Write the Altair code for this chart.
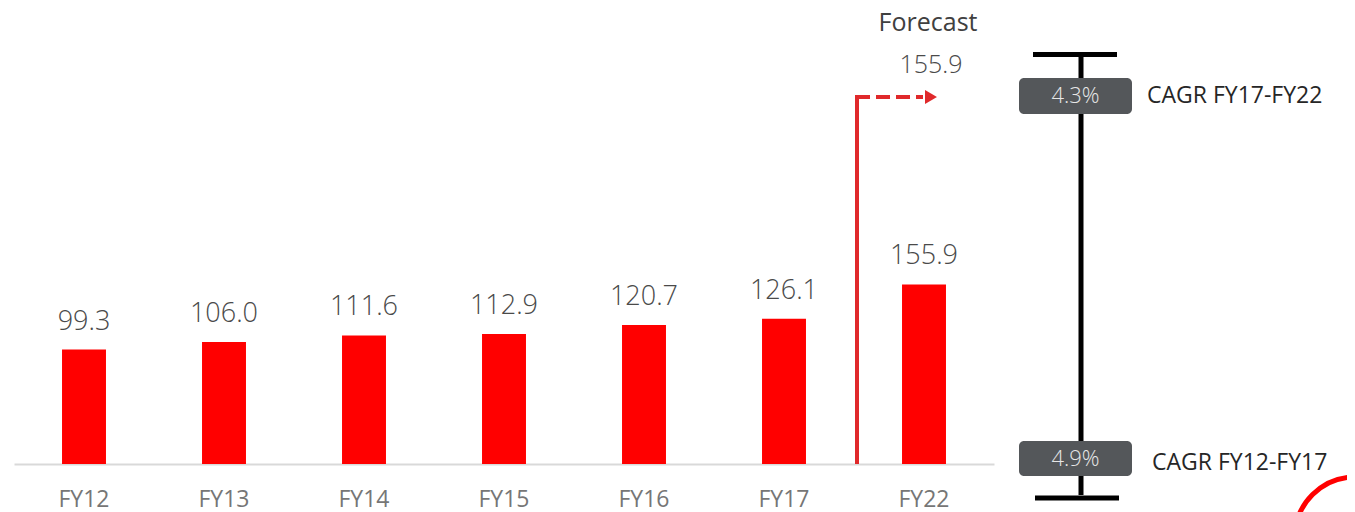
import altair as alt
import pandas as pd

# ---- data ----
years = ["FY12", "FY13", "FY14", "FY15", "FY16", "FY17", "FY22"]
values = [99.3, 106.0, 111.6, 112.9, 120.7, 126.1, 155.9]
value_labels = ["99.3", "106.0", "111.6", "112.9", "120.7", "126.1", "155.9"]
forecast_title = "Forecast"
forecast_value = "155.9"
cagr_values = ["4.3%", "4.9%"]
cagr_labels = ["CAGR FY17-FY22", "CAGR FY12-FY17"]

df = pd.DataFrame({"year": years, "value": values, "label": value_labels})
one = pd.DataFrame({"k": [0]})

W, H = 1339, 456
RED = "#ff0000"
ARROW = "#e0292b"

x = alt.X(
    "year:N", sort=years,
    scale=alt.Scale(range=[6, 986], paddingInner=0.686, paddingOuter=0.343),
    axis=alt.Axis(title=None, ticks=False, tickSize=0, labelAngle=0, labelFontSize=23,
                  labelColor="#767676", labelFont="Open Sans", domainColor="#d9d9d9",
                  domainWidth=2, labelPadding=24),
)
y = alt.Y("value:Q", scale=alt.Scale(domain=[0, 395.8], nice=False), axis=None)

bars = alt.Chart(df).mark_bar(color=RED).encode(x=x, y=y)
labels = alt.Chart(df).mark_text(
    font="Open Sans", fontSize=27, fontWeight=300, color="#4a4a4a",
    baseline="alphabetic", dy=-20,
).encode(x=x, y=y, text="label:N")


def seg(x1, y1, x2, y2, color, width, dash=None):
    kw = dict(color=color, strokeWidth=width, strokeCap="butt")
    if dash:
        kw["strokeDash"] = dash
    return alt.Chart(one).mark_rule(**kw).encode(
        x=alt.value(x1), x2=alt.value(x2), y=alt.value(y1), y2=alt.value(y2))


def txt(s, px, py, size, color, font="Open Sans", align="center", weight=400, baseline="alphabetic"):
    return alt.Chart(one).mark_text(
        text=s, font=font, fontSize=size, color=color, align=align,
        fontWeight=weight, baseline=baseline,
    ).encode(x=alt.value(px), y=alt.value(py))


def box(x1, y1, x2, y2):
    return alt.Chart(one).mark_rect(cornerRadius=5, color="#54575a").encode(
        x=alt.value(x1), x2=alt.value(x2), y=alt.value(y1), y2=alt.value(y2))


# forecast arrow
arrow_v = seg(849, 456, 849, 87, ARROW, 4)
arrow_h = seg(848, 89, 915, 89, ARROW, 4, dash=[14, 6])
arrow_head = alt.Chart(one).mark_point(
    shape="triangle-right", filled=True, size=190, color=ARROW, opacity=1
).encode(x=alt.value(923), y=alt.value(89))

forecast_t = txt(forecast_title, 920, 23, 25, "#404040")
forecast_v = txt(forecast_value, 923, 65, 25, "#4a4a4a", weight=300)

# CAGR bracket
vline = seg(1073, 49, 1073, 487, "#000000", 5)
cap_top = seg(1025, 46.5, 1109, 46.5, "#000000", 5)
cap_bot = seg(1027, 490, 1111, 490, "#000000", 5)
box1 = box(1011, 70, 1124, 106)
box2 = box(1011, 433, 1124, 468)
pct1 = txt(cagr_values[0], 1067.5, 88, 22, "#e6e6e6", weight=300, baseline="middle")
pct2 = txt(cagr_values[1], 1067.5, 451, 22, "#e6e6e6", weight=300, baseline="middle")
lab1 = txt(cagr_labels[0], 1139, 88, 23, "#262626", align="left", baseline="middle")
lab2 = txt(cagr_labels[1], 1144, 455, 23, "#262626", align="left", baseline="middle")

# decorative corner arc
arc = alt.Chart(one).mark_point(
    shape="circle", size=14400, filled=False, stroke=RED, strokeWidth=5, opacity=1
).encode(x=alt.value(1347), y=alt.value(529))

chart = alt.layer(
    bars, labels, arrow_v, arrow_h, arrow_head, forecast_t, forecast_v,
    vline, cap_top, cap_bot, box1, box2, pct1, pct2, lab1, lab2, arc,
).properties(
    width=W, height=H,
    padding={"left": 0, "top": 0, "right": 0, "bottom": 48},
    autosize=alt.AutoSizeParams(type="none"),
).configure_view(stroke=None)

chart.save("out.html", embed_options={"renderer": "svg", "actions": False})
